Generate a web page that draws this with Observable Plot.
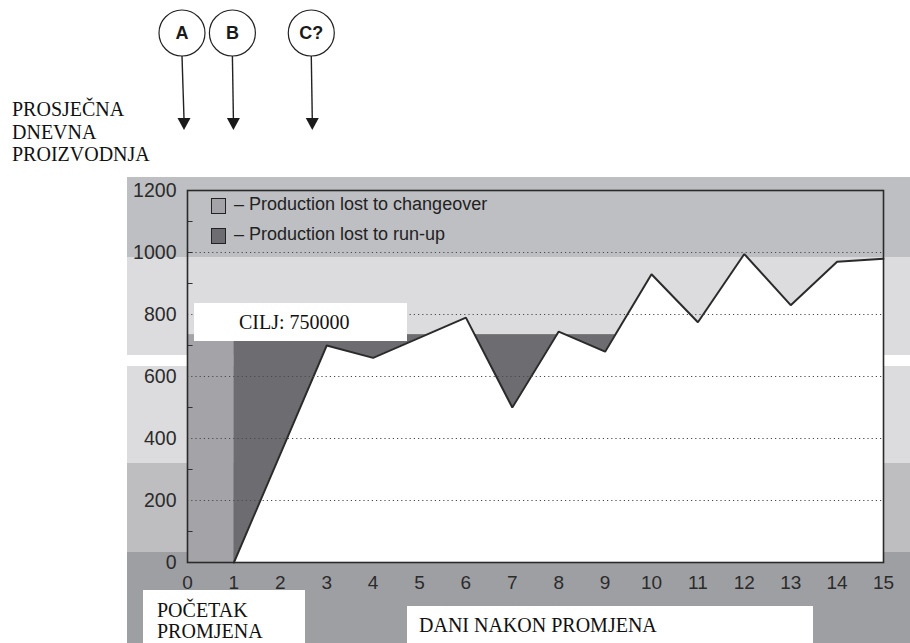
<!DOCTYPE html>
<html>
<head>
<meta charset="utf-8">
<script src="https://cdn.jsdelivr.net/npm/d3@7"></script>
<script src="https://cdn.jsdelivr.net/npm/@observablehq/plot@0.6"></script>
<style>
  html, body { margin: 0; padding: 0; background: #fff; }
  #wrap { position: relative; width: 910px; height: 643px; overflow: hidden; background: #fff; }
  .band { position: absolute; }
  .box { position: absolute; background: #fff; font-family: "Liberation Serif", "Times New Roman", serif; color: #111; }
  .serif { position: absolute; font-family: "Liberation Serif", "Times New Roman", serif; color: #111; }
  .leg { position: absolute; font-family: "Liberation Sans", Arial, sans-serif; font-size: 18px; color: #222; white-space: nowrap; }
  .sw { position: absolute; width: 13px; height: 14px; border: 1px solid #222; }
  svg.plot { position: absolute; left: 0; top: 0; }
</style>
</head>
<body>
<div id="wrap"></div>
<script>
// ---- data ----
const days = [1, 3, 4, 6, 7, 8, 9, 10, 11, 12, 13, 14, 15];
const output = [0, 700, 660, 790, 500, 745, 680, 930, 775, 995, 830, 970, 980];
const targetLevel = 735;
const changeoverStart = 0;
const changeoverEnd = 1;
const lastDay = 15;
const xTicks = [0, 1, 2, 3, 4, 5, 6, 7, 8, 9, 10, 11, 12, 13, 14, 15];
const yTicks = [0, 200, 400, 600, 800, 1000, 1200];
const gridValues = [200, 400, 600, 800, 1000];
const minorTicks = [100, 300, 500, 700, 900, 1000, 1100];
const markerLabels = ["A", "B", "C?"];
const markerDays = [0, 1, 2.7];
const legendLabels = ["– Production lost to changeover", "– Production lost to run-up"];

const series = days.map((d, i) => ({day: d, value: output[i]}));
const wrap = document.getElementById("wrap");

// background bands of the scanned page
const bands = [
  {top: 177, h: 80, c: "#bebfc2"},
  {top: 257, h: 98, c: "#dcdcde"},
  {top: 355, h: 11, c: "#ffffff"},
  {top: 366, h: 97, c: "#dcdcde"},
  {top: 463, h: 89, c: "#bebec1"},
  {top: 552, h: 91, c: "#9e9fa3"}
];
for (const b of bands) {
  const el = document.createElement("div");
  el.className = "band";
  Object.assign(el.style, {left: "127px", width: "783px", top: b.top + "px", height: b.h + "px", background: b.c});
  wrap.appendChild(el);
}

const changeColor = "#a4a4a8";
const runupColor = "#6d6d71";

const chart = Plot.plot({
  width: 910,
  height: 643,
  marginTop: 190,
  marginBottom: 81,
  marginLeft: 187,
  marginRight: 27,
  style: {background: "transparent", fontFamily: "'Liberation Sans', Arial, sans-serif", color: "#2b2b2b", overflow: "visible"},
  x: {domain: [0, lastDay]},
  y: {domain: [0, 1200]},
  marks: [
    Plot.rect([{x1: changeoverStart, x2: changeoverEnd}], {x1: "x1", x2: "x2", y1: 0, y2: targetLevel, fill: changeColor}),
    Plot.rect([{x1: changeoverEnd, x2: lastDay}], {x1: "x1", x2: "x2", y1: 0, y2: targetLevel, fill: runupColor}),
    Plot.areaY(series, {x: "day", y: "value", fill: "#fff"}),
    Plot.lineY(series, {x: "day", y: "value", stroke: "#2a2a2a", strokeWidth: 2, strokeLinejoin: "miter"}),
    Plot.ruleY(gridValues, {stroke: "#4a4a4a", strokeWidth: 1.2, strokeDasharray: "1.2,3"}),
    Plot.ruleY(minorTicks, {x1: 0, x2: 0.12, stroke: "#333", strokeWidth: 1}),
    Plot.frame({stroke: "#2a2a2a", strokeWidth: 1.6}),
    Plot.axisX({ticks: xTicks, tickSize: 0, tickPadding: 13, fontSize: 19, label: null, tickFormat: d => String(d)}),
    Plot.axisY({ticks: yTicks, tickSize: 0, tickPadding: 11, fontSize: 19.5, label: null, tickFormat: d => String(d)})
  ]
});
chart.classList.add("plot");
wrap.appendChild(chart);

// circled markers with arrows, placed with the chart's x scale
const xs = chart.scale("x");
const svg = d3.select(chart);
const g = svg.append("g");
markerLabels.forEach((lab, i) => {
  const px = xs.apply(markerDays[i]);
  const cx = px - (i === 0 ? 5 : 1);
  g.append("circle").attr("cx", cx).attr("cy", 33).attr("r", 23)
    .attr("fill", "#fff").attr("stroke", "#222").attr("stroke-width", 1.2);
  g.append("text").attr("x", cx).attr("y", 33).attr("dy", "0.36em")
    .attr("text-anchor", "middle").attr("font-weight", "bold").attr("font-size", 18)
    .attr("font-family", "'Liberation Sans', Arial, sans-serif").attr("fill", "#1a1a1a").text(lab);
  g.append("line").attr("x1", cx).attr("y1", 56).attr("x2", px - (i === 0 ? 3 : 0)).attr("y2", 119)
    .attr("stroke", "#222").attr("stroke-width", 1.4);
  const tx = px - (i === 0 ? 3 : 0);
  g.append("path").attr("d", `M${tx - 6.5},118 L${tx + 6.5},118 L${tx},130 Z`).attr("fill", "#1a1a1a");
});

// text overlays
function addDiv(cls, styles, html) {
  const el = document.createElement("div");
  el.className = cls;
  Object.assign(el.style, styles);
  el.innerHTML = html;
  wrap.appendChild(el);
  return el;
}
addDiv("serif", {left: "12px", top: "98px", fontSize: "20px", lineHeight: "22.5px"}, "PROSJEČNA<br>DNEVNA<br>PROIZVODNJA");

// legend inside the plot
addDiv("sw", {left: "211px", top: "198px", background: changeColor}, "");
addDiv("leg", {left: "234px", top: "194px"}, legendLabels[0]);
addDiv("sw", {left: "211px", top: "228px", background: runupColor}, "");
addDiv("leg", {left: "234px", top: "224px"}, legendLabels[1]);

addDiv("box", {left: "194px", top: "303px", width: "213px", height: "38px", fontSize: "20px"},
  `<span style="position:absolute;left:45px;top:8px;">CILJ: ${750000}</span>`);
addDiv("box", {left: "143px", top: "590px", width: "162px", height: "53px", fontSize: "20px", lineHeight: "21px"},
  `<span style="position:absolute;left:14px;top:10px;">POČETAK<br>PROMJENA</span>`);
addDiv("box", {left: "407px", top: "606px", width: "406px", height: "37px", fontSize: "20px"},
  `<span style="position:absolute;left:12px;top:8px;">DANI NAKON PROMJENA</span>`);
</script>
</body>
</html>
